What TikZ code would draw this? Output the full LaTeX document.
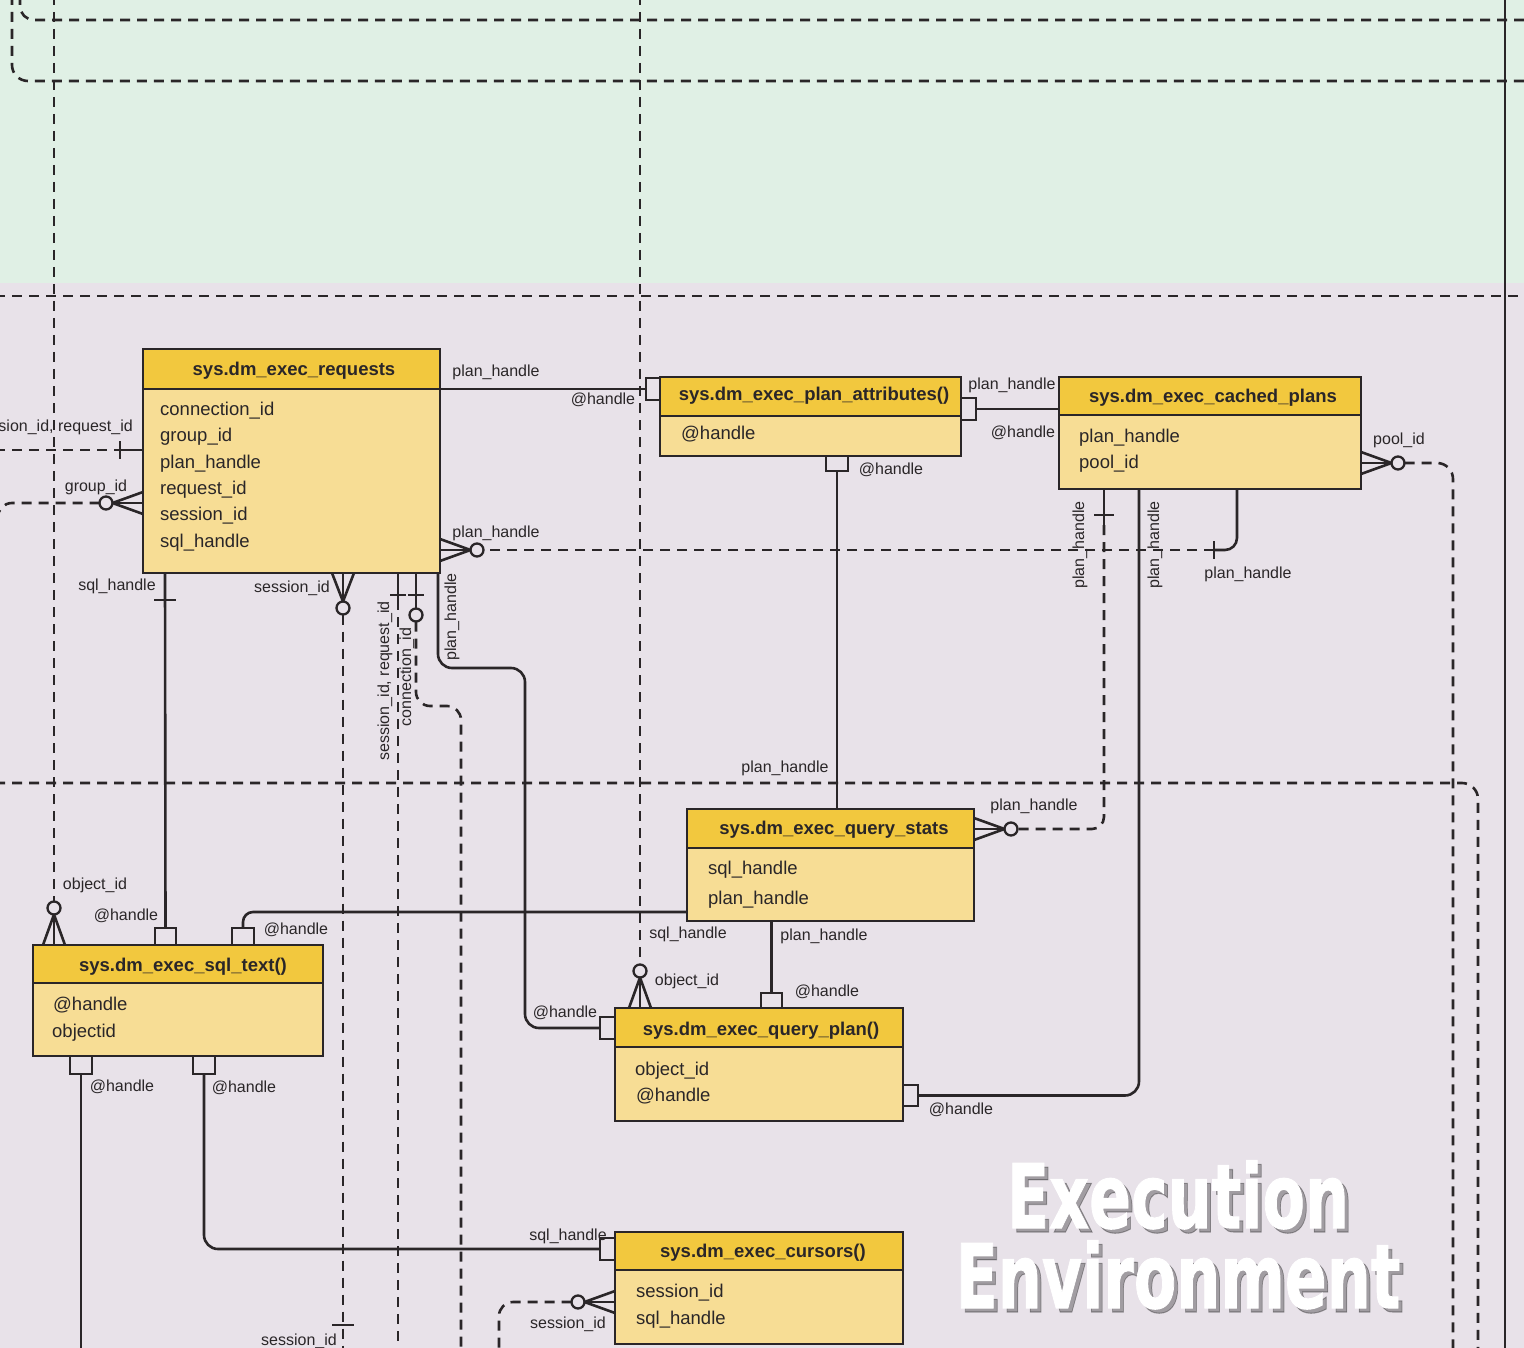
\documentclass[tikz,border=0pt]{standalone}
\usepackage{fontspec}
\setmainfont{Liberation Sans}
\newfontfamily\bigfont{DejaVu Sans}[FakeBold=1.2]
\definecolor{lc}{HTML}{2A2628}
\definecolor{hdrc}{HTML}{F2C83E}
\definecolor{bodc}{HTML}{F7DD95}
\definecolor{bgtop}{HTML}{E0F0E5}
\definecolor{bgbot}{HTML}{E8E2E9}
\tikzset{
  hdr/.style={draw=lc, fill=hdrc, line width=2.8pt, anchor=north west, inner sep=0pt, outer sep=0pt},
  bdy/.style={draw=lc, fill=bodc, line width=2.8pt, anchor=north west, inner sep=0pt, outer sep=0pt},
  ttl/.style={font=\bfseries\fontsize{18.5}{20}\selectfont, anchor=base, inner sep=0pt, text=lc},
  fld/.style={font=\fontsize{18.5}{20}\selectfont, anchor=base west, inner sep=0pt, text=lc},
  lbl/.style={font=\fontsize{16}{18}\selectfont, anchor=base, inner sep=0pt, text=lc},
  rlbl/.style={font=\fontsize{16}{18}\selectfont, rotate=90, inner sep=0pt, text=lc},
  conn/.style={draw=lc, line width=2.6pt},
  dsh/.style={draw=lc, line width=2.6pt, dash pattern=on 10pt off 7pt},
  port/.style={draw=lc, fill=bgbot, line width=2.6pt, inner sep=0pt, outer sep=0pt},
  circ/.style={circle, draw=lc, fill=bgbot, line width=2.3pt, minimum size=13pt, inner sep=0pt, outer sep=0pt},
  bigt/.style={font=\bigfont\bfseries\fontsize{89}{95}\selectfont, anchor=base, inner sep=0pt, xscale=0.695}
}
\begin{document}
\begin{tikzpicture}[x=1pt,y=-1pt]
\useasboundingbox (0,0) rectangle (1524,1348);
\fill[bgbot] (0,0) rectangle (1524,1348);
\fill[bgtop] (0,0) rectangle (1524,283);

% ---------- dashed connectors ----------
\draw[dsh, rounded corners=16pt] (12,-5) -- (12,81) -- (1530,81);
\draw[dsh, rounded corners=14pt] (20,-5) -- (20,20) -- (1530,20);
\draw[dsh] (-5,296) -- (1530,296);
\draw[dsh] (54,-5) -- (54,901.5);
\draw[dsh] (640,-5) -- (640,964.5);
\draw[dsh] (-5,450) -- (120,450);
\draw[dsh, rounded corners=14pt] (99.5,503) -- (-2,503) -- (-2,560);
\draw[dsh, rounded corners=16pt] (-5,783) -- (1478,783) -- (1478,1355);
\draw[dsh, rounded corners=16pt] (1404.5,463) -- (1453,463) -- (1453,1355);
\draw[dsh, rounded corners=12pt] (1104,525) -- (1104,829) -- (1017.5,829);
\draw[dsh] (1214,550) -- (483.5,550);
\draw[dsh] (343,614.5) -- (343,1355);
\draw[dsh] (398,600) -- (398,1355);
\draw[dsh, rounded corners=14pt] (416,621.5) -- (416,706) -- (461,706) -- (461,1355);
\draw[dsh, rounded corners=14pt] (571.5,1302) -- (499,1302) -- (499,1355);

% ---------- solid frame line ----------
\draw[draw=lc, line width=2.2pt] (1505,-5) -- (1505,1355);

% ---------- tables ----------
\node[hdr, minimum width=297pt, minimum height=40pt] (reqH) at (143,349) {};
\node[bdy, minimum width=297pt, minimum height=184pt] (reqB) at (143,389) {};
\node[hdr, minimum width=301pt, minimum height=39pt] (paH) at (660,377) {};
\node[bdy, minimum width=301pt, minimum height=40pt] (paB) at (660,416) {};
\node[hdr, minimum width=302pt, minimum height=38pt] (cpH) at (1059,377) {};
\node[bdy, minimum width=302pt, minimum height=74pt] (cpB) at (1059,415) {};
\node[hdr, minimum width=287pt, minimum height=39pt] (qsH) at (687,809) {};
\node[bdy, minimum width=287pt, minimum height=73pt] (qsB) at (687,848) {};
\node[hdr, minimum width=290pt, minimum height=38pt] (stH) at (33,945) {};
\node[bdy, minimum width=290pt, minimum height=73pt] (stB) at (33,983) {};
\node[hdr, minimum width=288pt, minimum height=39pt] (qpH) at (615,1008) {};
\node[bdy, minimum width=288pt, minimum height=74pt] (qpB) at (615,1047) {};
\node[hdr, minimum width=288pt, minimum height=38pt] (cuH) at (615,1232) {};
\node[bdy, minimum width=288pt, minimum height=74pt] (cuB) at (615,1270) {};

% titles
\node[ttl] (reqT) at (294,375.5) {sys.dm\_exec\_requests};
\node[ttl] (paT) at (814,400.5) {sys.dm\_exec\_plan\_attributes()};
\node[ttl] (cpT) at (1213,402.5) {sys.dm\_exec\_cached\_plans};
\node[ttl] (qsT) at (834,834.5) {sys.dm\_exec\_query\_stats};
\node[ttl] (stT) at (183,971.5) {sys.dm\_exec\_sql\_text()};
\node[ttl] (qpT) at (761,1035.5) {sys.dm\_exec\_query\_plan()};
\node[ttl] (cuT) at (763,1257.5) {sys.dm\_exec\_cursors()};

% fields
\node[fld] (rf1) at (160,415.5) {connection\_id};
\node[fld] (rf2) at (160,441.5) {group\_id};
\node[fld] (rf3) at (160,468.5) {plan\_handle};
\node[fld] (rf4) at (160,494.5) {request\_id};
\node[fld] (rf5) at (160,520.5) {session\_id};
\node[fld] (rf6) at (160,547.5) {sql\_handle};
\node[fld] (pf1) at (681,439.5) {@handle};
\node[fld] (cf1) at (1079,442.5) {plan\_handle};
\node[fld] (cf2) at (1079,468.5) {pool\_id};
\node[fld] (qf1) at (708,874.5) {sql\_handle};
\node[fld] (qf2) at (708,904.5) {plan\_handle};
\node[fld] (sf1) at (53,1010.5) {@handle};
\node[fld] (sf2) at (52,1037.5) {objectid};
\node[fld] (pp1) at (635,1075.5) {object\_id};
\node[fld] (pp2) at (636,1101.5) {@handle};
\node[fld] (cu1) at (636,1297.5) {session\_id};
\node[fld] (cu2) at (636,1324.5) {sql\_handle};

% ---------- ports ----------
\node[port, minimum width=14pt, minimum height=22pt] (paL) at (653,389) {};
\node[port, minimum width=15pt, minimum height=22pt] (paR) at (968.5,409) {};
\node[port, minimum width=22pt, minimum height=15pt] (paBo) at (837,463.5) {};
\node[port, minimum width=21pt, minimum height=15pt] (qpTp) at (771.5,1000.5) {};
\node[port, minimum width=15pt, minimum height=22pt] (qpL) at (607.5,1028) {};
\node[port, minimum width=15pt, minimum height=21pt] (qpR) at (910.5,1095.5) {};
\node[port, minimum width=21pt, minimum height=17pt] (stT1) at (165.5,936.5) {};
\node[port, minimum width=22pt, minimum height=17pt] (stT2) at (243,936.5) {};
\node[port, minimum width=22pt, minimum height=18pt] (stB1) at (81,1065) {};
\node[port, minimum width=22pt, minimum height=18pt] (stB2) at (204,1065) {};
\node[port, minimum width=15pt, minimum height=22pt] (cuL) at (607.5,1249) {};

% ---------- solid connectors ----------
\draw[conn] (reqH.south east) -- (paL.west);
\draw[conn] (paR.east) -- (paR.east -| cpB.west);
\draw[conn] (paBo.south) -- (paBo.south |- qsH.north);
\draw[conn] (qsB.south -| qpTp.north) -- (qpTp.north);
\coordinate (cpS1) at (1104,489);
\coordinate (cpS2) at (1139,489);
\coordinate (cpS3) at (1237,489);
\draw[conn, rounded corners=14pt] (qpR.east) -- (1139,1095.5) -- (cpS2);
\draw[conn, rounded corners=12pt] (cpS3) -- (1237,550) -- (1214,550);
\draw[conn] (1214,541) -- (1214,559);
\draw[conn] (cpS1) -- (1104,525);
\draw[conn] (1094,515) -- (1114,515);
\coordinate (rqS1) at (165,573);
\draw[conn] (rqS1) -- (stT1.north);
\draw[conn] (154,600) -- (176,600);
\coordinate (rqS5) at (438,573);
\draw[conn, rounded corners=14pt] (rqS5) -- (438,668) -- (525,668) -- (525,1028) -- (qpL.west);
\draw[conn, rounded corners=10pt] (qsB.west |- 0,912) -- (243,912) -- (stT2.north);
\draw[conn] (stB1.south) -- (81,1355);
\draw[conn, rounded corners=14pt] (stB2.south) -- (204,1249) -- (cuL.west);
\draw[conn] (120,450) -- (143,450);
\draw[conn] (120,441) -- (120,459);
\draw[conn] (398,573) -- (398,600);
\draw[conn] (390,595) -- (406,595);
\draw[conn] (416,573) -- (416,608.5);
\draw[conn] (408,595) -- (424,595);
\draw[conn] (332,1325) -- (354,1325);

% ---------- crow's feet & circles ----------
\node[circ] (c1) at (477,550) {};
\foreach \yy in {539,550,561} \draw[conn] (440,\yy) -- (c1.west);
\node[circ] (c2) at (1398,463) {};
\foreach \yy in {452,463,474} \draw[conn] (1361,\yy) -- (c2.west);
\node[circ] (c3) at (1011,829) {};
\foreach \yy in {818,829,840} \draw[conn] (974,\yy) -- (c3.west);
\node[circ] (c4) at (106,503) {};
\foreach \yy in {492,503,514} \draw[conn] (143,\yy) -- (c4.east);
\node[circ] (c5) at (343,608) {};
\foreach \xx in {332,343,354} \draw[conn] (\xx,573) -- (c5.north);
\node[circ] (c6) at (54,908) {};
\foreach \xx in {43,54,65} \draw[conn] (\xx,945) -- (c6.south);
\node[circ] (c7) at (640,971) {};
\foreach \xx in {629,640,651} \draw[conn] (\xx,1008) -- (c7.south);
\node[circ] (c8) at (578,1302) {};
\foreach \yy in {1291,1302,1313} \draw[conn] (615,\yy) -- (c8.east);
\node[circ] (c9) at (416,615) {};

% ---------- labels ----------
\node[lbl, anchor=base east] (L1) at (133,431.5) {session\_id, request\_id};
\node[lbl] (L2) at (96,491.5) {group\_id};
\node[lbl] (L3) at (496,376.5) {plan\_handle};
\node[lbl] (L4) at (603,404.5) {@handle};
\node[lbl] (L5) at (1012,389.5) {plan\_handle};
\node[lbl] (L6) at (1023,437.5) {@handle};
\node[lbl] (L7) at (891,474.5) {@handle};
\node[lbl] (L8) at (1399,444.5) {pool\_id};
\node[rlbl] (L9) at (1080,545) {plan\_handle};
\node[rlbl] (L10) at (1155,545) {plan\_handle};
\node[lbl] (L11) at (1248,578.5) {plan\_handle};
\node[lbl] (L12) at (496,537.5) {plan\_handle};
\node[lbl] (L13) at (117,590.5) {sql\_handle};
\node[lbl] (L14) at (292,592.5) {session\_id};
\node[rlbl] (L15) at (385,681) {session\_id, request\_id};
\node[rlbl] (L16) at (407,677) {connection\_id};
\node[rlbl] (L17) at (452,617) {plan\_handle};
\node[lbl] (L18) at (785,772.5) {plan\_handle};
\node[lbl] (L19) at (1034,810.5) {plan\_handle};
\node[lbl] (L20) at (95,889.5) {object\_id};
\node[lbl] (L21) at (126,920.5) {@handle};
\node[lbl] (L22) at (296,934.5) {@handle};
\node[lbl] (L23) at (688,938.5) {sql\_handle};
\node[lbl] (L24) at (824,940.5) {plan\_handle};
\node[lbl] (L25) at (687,985.5) {object\_id};
\node[lbl] (L26) at (827,996.5) {@handle};
\node[lbl] (L27) at (565,1017.5) {@handle};
\node[lbl] (L28) at (961,1114.5) {@handle};
\node[lbl] (L29) at (122,1091.5) {@handle};
\node[lbl] (L30) at (244,1092.5) {@handle};
\node[lbl] (L31) at (568,1240.5) {sql\_handle};
\node[lbl] (L32) at (568,1328.5) {session\_id};
\node[lbl] (L33) at (299,1345.5) {session\_id};

% ---------- big title (shadow, then bold white text) ----------
\node[bigt, text=black, opacity=0.3] (bt1s) at (1182,1232) {Execution};
\node[bigt, text=black, opacity=0.3] (bt2s) at (1182,1312) {Environment};
\node[bigt, text=white] (bt1) at (1178,1228) {Execution};
\node[bigt, text=white] (bt2) at (1178,1308) {Environment};
\end{tikzpicture}
\end{document}
